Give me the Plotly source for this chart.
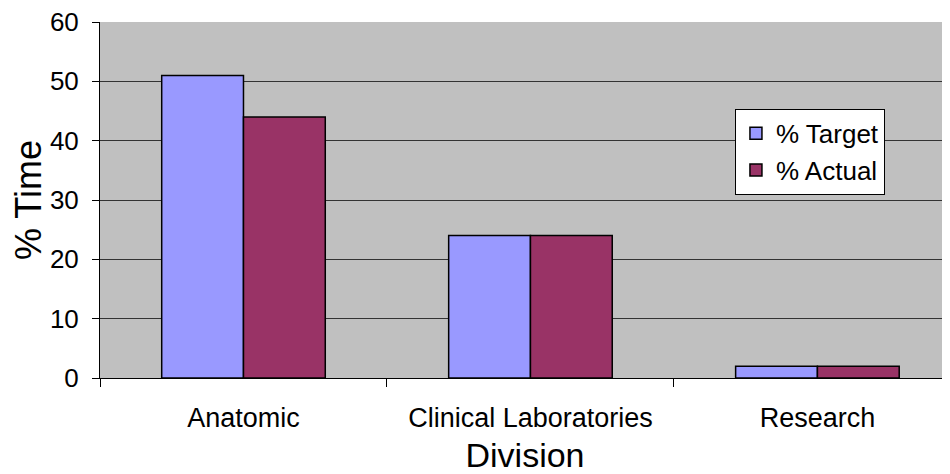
import plotly.graph_objects as go

categories = ["Anatomic", "Clinical Laboratories", "Research"]
target = [51, 24, 2]
actual = [44, 24, 2]
series_names = ["% Target", "% Actual"]
y_ticks = [0, 10, 20, 30, 40, 50, 60]

fig = go.Figure()
fig.add_trace(go.Bar(x=categories, y=target, name=series_names[0],
                     marker=dict(color="#9999FF", line=dict(color="black", width=1.5))))
fig.add_trace(go.Bar(x=categories, y=actual, name=series_names[1],
                     marker=dict(color="#993366", line=dict(color="black", width=1.5))))

font = "Liberation Sans, Arial, sans-serif"
fig.update_layout(
    width=942, height=466,
    margin=dict(l=92, r=0, t=14, b=96),
    paper_bgcolor="white", plot_bgcolor="#C0C0C0",
    barmode="group", bargap=0.43, bargroupgap=0,
    font=dict(family=font, color="black", size=26),
    showlegend=True,
    legend=dict(x=0.747, y=0.756, xanchor="left", yanchor="top",
                bgcolor="white", bordercolor="black", borderwidth=1,
                font=dict(size=26), tracegroupgap=0, itemwidth=30),
    xaxis=dict(type="category", range=[-0.5, 2.462], showline=True, linecolor="black",
               linewidth=1, ticks="outside", tickson="boundaries", ticklen=8,
               tickcolor="black", tickfont=dict(size=27), ticklabelstandoff=16,
               title=dict(text="Division", font=dict(size=34), standoff=10),
               showgrid=False),
    yaxis=dict(range=[0, 60], tickvals=y_ticks, showline=True, linecolor="black",
               linewidth=1, ticks="outside", ticklen=7, tickcolor="black",
               showgrid=True, gridcolor="#333333", gridwidth=1,
               tickfont=dict(size=26), ticklabelstandoff=8,
               ticklabeloverflow="allow",
               title=dict(text="% Time", font=dict(size=36), standoff=4),
               zeroline=False),
)
fig.write_html("out.html")
